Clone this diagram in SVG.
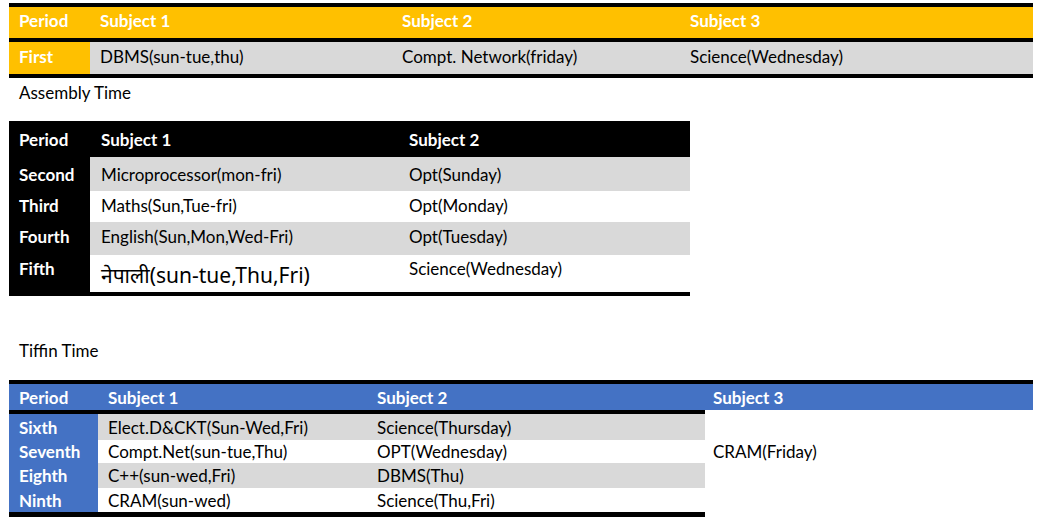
<svg xmlns="http://www.w3.org/2000/svg" width="1039" height="524" viewBox="0 0 1039 524">
<style>
text{font-family:Lato,"Open Sans","Liberation Sans",sans-serif;font-size:17px;fill:#000}
.h{font-weight:bold;fill:#fff}
.g{fill:#d9d9d9}
</style>
<rect width="1039" height="524" fill="#fff"/>
<g id="table1">
<rect x="9" y="3" width="1024" height="4" fill="#000"/>
<rect x="9" y="7" width="1024" height="31" fill="#ffc000"/>
<rect x="9" y="38" width="1024" height="4" fill="#000"/>
<rect x="9" y="42" width="81" height="32" fill="#ffc000"/>
<rect x="90" y="42" width="943" height="32" class="g"/>
<rect x="9" y="74" width="1024" height="4" fill="#000"/>
<text x="19" y="27" class="h">Period</text><text x="100" y="27" class="h">Subject 1</text><text x="402" y="27" class="h">Subject 2</text><text x="690" y="27" class="h">Subject 3</text>
<text x="19" y="63" class="h">First</text><text x="100" y="63">DBMS(sun-tue,thu)</text><text x="402" y="63">Compt. Network(friday)</text><text x="690" y="63">Science(Wednesday)</text>
</g>
<text x="19" y="99">Assembly Time</text>
<g id="table2">
<rect x="9" y="121" width="681" height="36" fill="#000"/>
<rect x="9" y="157" width="81" height="139" fill="#000"/>
<rect x="90" y="157" width="600" height="34" class="g"/>
<rect x="90" y="222" width="600" height="33" class="g"/>
<rect x="90" y="292" width="600" height="4" fill="#000"/>
<text x="19" y="146" class="h">Period</text><text x="101" y="146" class="h">Subject 1</text><text x="409" y="146" class="h">Subject 2</text>
<text x="19" y="181" class="h">Second</text><text x="101" y="181">Microprocessor(mon-fri)</text><text x="409" y="181">Opt(Sunday)</text>
<text x="19" y="212" class="h">Third</text><text x="101" y="212">Maths(Sun,Tue-fri)</text><text x="409" y="212">Opt(Monday)</text>
<text x="19" y="243" class="h">Fourth</text><text x="101" y="243">English(Sun,Mon,Wed-Fri)</text><text x="409" y="243">Opt(Tuesday)</text>
<text x="19" y="275" class="h">Fifth</text><text x="101" y="283" style="font-family:'Noto Sans','Noto Sans Devanagari',Lato,sans-serif;font-size:21px">नेपाली(sun-tue,Thu,Fri)</text><text x="409" y="275">Science(Wednesday)</text>
</g>
<text x="19" y="357">Tiffin Time</text>
<g id="table3">
<rect x="9" y="380" width="1024" height="4" fill="#000"/>
<rect x="9" y="384" width="1024" height="26" fill="#4472c4"/>
<rect x="9" y="410" width="696" height="4" fill="#000"/>
<rect x="9" y="414" width="89" height="98" fill="#4472c4"/>
<rect x="98" y="414" width="607" height="26" class="g"/>
<rect x="98" y="463" width="607" height="25" class="g"/>
<rect x="9" y="512" width="696" height="5" fill="#000"/>
<text x="19" y="404" class="h">Period</text><text x="108" y="404" class="h">Subject 1</text><text x="377" y="404" class="h">Subject 2</text><text x="713" y="404" class="h">Subject 3</text>
<text x="19" y="434" class="h">Sixth</text><text x="108" y="434">Elect.D&amp;CKT(Sun-Wed,Fri)</text><text x="377" y="434">Science(Thursday)</text>
<text x="19" y="458" class="h">Seventh</text><text x="108" y="458">Compt.Net(sun-tue,Thu)</text><text x="377" y="458">OPT(Wednesday)</text><text x="713" y="458">CRAM(Friday)</text>
<text x="19" y="482" class="h">Eighth</text><text x="108" y="482">C++(sun-wed,Fri)</text><text x="377" y="482">DBMS(Thu)</text>
<text x="19" y="507" class="h">Ninth</text><text x="108" y="507">CRAM(sun-wed)</text><text x="377" y="507">Science(Thu,Fri)</text>
</g>
</svg>
